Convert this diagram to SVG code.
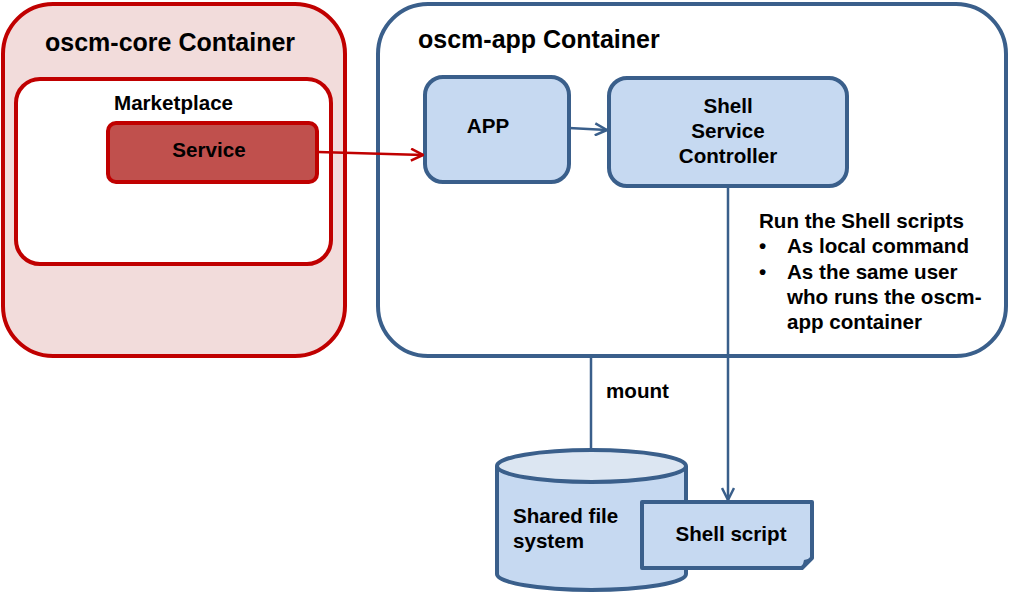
<svg xmlns="http://www.w3.org/2000/svg" width="1009" height="597" viewBox="0 0 1009 597">
<defs>
<style>
text{font-family:"Liberation Sans",Arial,sans-serif;font-weight:bold;fill:#000}
.t{font-size:25px}
.l{font-size:20.6px}
.red{stroke:#C00000;stroke-width:4}
.blue{stroke:#3A5F8B;stroke-width:4}
.conn{fill:none;stroke-width:2.5}
</style>
<marker id="ar" viewBox="0 0 14 14" refX="13" refY="7" markerWidth="14" markerHeight="14" markerUnits="userSpaceOnUse" orient="auto">
<path d="M1,1 L13,7 L1,13" fill="none" stroke="#C00000" stroke-width="2.5"/>
</marker>
<marker id="ab" viewBox="0 0 14 14" refX="13" refY="7" markerWidth="14" markerHeight="14" markerUnits="userSpaceOnUse" orient="auto">
<path d="M1,1 L13,7 L1,13" fill="none" stroke="#3A5F8B" stroke-width="2.5"/>
</marker>
</defs>
<rect width="1009" height="597" fill="#fff"/>
<g id="core">
<rect class="red" x="3" y="4" width="342" height="352" rx="50" fill="#F2DCDB"/>
<text class="t" x="45" y="51">oscm-core Container</text>
</g>
<g id="marketplace">
<rect class="red" x="16" y="79" width="315" height="185" rx="24" fill="#fff"/>
<text class="l" x="114" y="110">Marketplace</text>
</g>
<g id="service">
<rect class="red" x="108" y="123" width="209" height="59" rx="8" fill="#C0504D"/>
<text class="l" x="209" y="157" text-anchor="middle">Service</text>
</g>
<g id="app-container">
<rect class="blue" x="378" y="4" width="628" height="352" rx="50" fill="#fff"/>
<text class="t" x="418" y="48">oscm-app Container</text>
</g>
<g id="app">
<rect class="blue" x="425" y="77" width="144" height="105" rx="18" fill="#C6D9F1"/>
<text class="l" x="488" y="133" text-anchor="middle">APP</text>
</g>
<g id="ssc">
<rect class="blue" x="609" y="78" width="238" height="108" rx="18" fill="#C6D9F1"/>
<text class="l" x="728" y="113" text-anchor="middle">Shell</text>
<text class="l" x="728" y="138" text-anchor="middle">Service</text>
<text class="l" x="728" y="163" text-anchor="middle">Controller</text>
</g>
<g id="note">
<text class="l" x="759" y="228">Run the Shell scripts</text>
<text class="l" x="759" y="253">•</text>
<text class="l" x="787" y="253">As local command</text>
<text class="l" x="759" y="279">•</text>
<text class="l" x="787" y="279">As the same user</text>
<text class="l" x="787" y="304">who runs the oscm-</text>
<text class="l" x="787" y="329">app container</text>
</g>
<g id="connectors">
<line class="conn" x1="318" y1="152" x2="423" y2="155" stroke="#C00000" marker-end="url(#ar)"/>
<line class="conn" x1="569" y1="128" x2="607" y2="130" stroke="#3A5F8B" marker-end="url(#ab)"/>
<line class="conn" x1="728" y1="186" x2="728" y2="500" stroke="#3A5F8B" marker-end="url(#ab)"/>
<line class="conn" x1="591" y1="357" x2="591" y2="450" stroke="#3A5F8B"/>
<text class="l" x="606" y="398">mount</text>
</g>
<g id="fs">
<path class="blue" d="M497,466 V574 A94.5,16 0 0 0 686,574 V466" fill="#C6D9F1"/>
<ellipse class="blue" cx="591.5" cy="466" rx="94.5" ry="16" fill="#DCE6F2"/>
<text class="l" x="513" y="523">Shared file</text>
<text class="l" x="513" y="548">system</text>
</g>
<g id="script">
<path class="blue" d="M642,502 H812 V558 L802,568 H642 Z" fill="#C6D9F1" stroke-linejoin="round"/>
<path d="M812,558 L804,560 L802,568 Z" fill="#3A5F8B"/>
<text class="l" x="731" y="541" text-anchor="middle">Shell script</text>
</g>
</svg>
